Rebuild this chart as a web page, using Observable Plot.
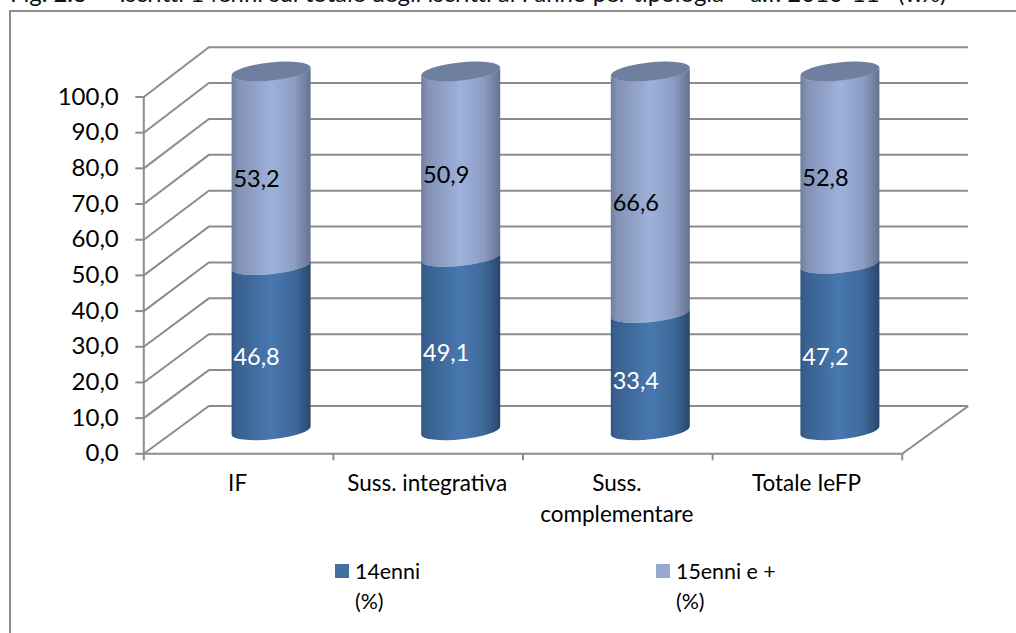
<!DOCTYPE html>
<html>
<head>
<meta charset="utf-8">
<script src="https://cdn.jsdelivr.net/npm/d3@7"></script>
<script src="https://cdn.jsdelivr.net/npm/@observablehq/plot@0.6"></script>
<style>
  html,body{margin:0;padding:0;background:#fff;overflow:hidden}
  #page{position:relative;width:1016px;height:633px;overflow:hidden;font-family:Lato,sans-serif;color:#000}
  #title{position:absolute;left:10px;top:-18px;font-size:23.95px;line-height:22px;white-space:pre;color:#111}
  #frame{position:absolute;left:9px;top:10px;width:1010px;height:640px;border:2px solid #8e8e8e;box-sizing:border-box}
  #chart{position:absolute;left:0;top:0}
  .lg{position:absolute;font-size:21.4px;line-height:30px;white-space:pre}
  .sw{position:absolute;width:14px;height:14px}
</style>
</head>
<body>
<div id="page">
  <div id="title">Fig. 2.3  – Iscritti 14enni sul totale degli iscritti al I anno per tipologia – a.f. 2010-11   (v.%)</div>
  <div id="frame"></div>
  <div id="chart"></div>
  <div class="sw" style="left:335px;top:564px;background:#44709f"></div>
  <div class="lg" style="left:355px;top:556px">14enni
(%)</div>
  <div class="sw" style="left:656px;top:564px;background:#95a9d1"></div>
  <div class="lg" style="left:676px;top:556px">15enni e +
(%)</div>
</div>
<script>
const categories = ["IF", "Suss. integrativa", "Suss.\ncomplementare", "Totale IeFP"];
const values14 = [46.8, 49.1, 33.4, 47.2];
const values15 = [53.2, 50.9, 66.6, 52.8];
const yTicks = d3.range(0, 101, 10);
const decimal = d => d.toFixed(1).replace(".", ",");

// Oblique "3D" depth, in data units of the two scales
const depthX = 0.343, backRight = 4.349;
const backY = d => 13.4 + d * 1.0056;
const grey = "#8c8c8c";
const cylHalf = 0.2095;

const rows14 = categories.map((c, i) => ({i, pos: i + 0.5, low: 0, high: values14[i], mid: values14[i] / 2, label: decimal(values14[i])}));
const rows15 = categories.map((c, i) => ({i, pos: i + 0.5, low: values14[i], high: 100, mid: values14[i] + values15[i] / 2, label: decimal(values15[i])}));

// Cylinder geometry in pixels, derived from the scaled rect channels
const shiftX = 33, rot = -6, ry = 8.8;
const lift = v => v === 0 ? 22.8 : v === 100 ? 25 : 21;
const ends = rx => [rx * Math.cos(rot * Math.PI / 180), rx * Math.sin(rot * Math.PI / 180)];

function cylinder(data, fill) {
  return (index, scales, values) => {
    const g = d3.create("svg:g");
    for (const i of index) {
      const rx = (values.x2[i] - values.x1[i]) / 2;
      const cx = (values.x1[i] + values.x2[i]) / 2 + shiftX;
      const yb = values.y1[i] - lift(data[i].low);
      const yt = values.y2[i] - lift(data[i].high);
      const [ex, ey] = ends(rx);
      g.append("path")
        .attr("fill", fill)
        .attr("d", `M${cx - ex},${yb - ey}A${rx},${ry} ${rot} 0 0 ${cx + ex},${yb + ey}L${cx + ex},${yt + ey}A${rx},${ry} ${rot} 0 1 ${cx - ex},${yt - ey}Z`);
    }
    return g.node();
  };
}
function cap(data, fill) {
  return (index, scales, values) => {
    const g = d3.create("svg:g");
    for (const i of index) {
      const rx = (values.x2[i] - values.x1[i]) / 2;
      const cx = (values.x1[i] + values.x2[i]) / 2 + shiftX;
      const yt = values.y2[i] - lift(100);
      const [ex, ey] = ends(rx);
      g.append("path")
        .attr("fill", fill)
        .attr("d", `M${cx - ex},${yt - ey}A${rx},${ry + 0.3} ${rot} 0 0 ${cx + ex},${yt + ey}A${rx},${ry + 0.3} ${rot} 0 0 ${cx - ex},${yt - ey}Z`);
    }
    return g.node();
  };
}
const gradient = (id, stops) =>
  `<linearGradient id="${id}" x1="0" x2="1" y1="0" y2="0">` +
  stops.map(([o, c]) => `<stop offset="${o}" stop-color="${c}"/>`).join("") + `</linearGradient>`;
const defs = () => {
  const s = d3.create("svg:defs");
  s.html(
    gradient("g14", [[0, "#33557f"], [0.06, "#38608f"], [0.5, "#4878b0"], [0.8, "#3e6898"], [0.95, "#2e4f7a"], [1, "#2a4668"]]) +
    gradient("g15", [[0, "#6f7f9f"], [0.08, "#8391b5"], [0.5, "#9db2da"], [0.8, "#8b9cc2"], [0.95, "#6f7d9c"], [1, "#64718d"]])
  );
  return s.node();
};

const rectOpts = (data, render) => ({
  x1: d => d.pos - cylHalf, x2: d => d.pos + cylHalf,
  y1: "low", y2: "high", render
});

const chart = Plot.plot({
  width: 1016, height: 633,
  marginLeft: 143.3, marginRight: 114.3, marginTop: 96.5, marginBottom: 179.7,
  style: {background: "transparent", fontFamily: "Lato, sans-serif", overflow: "visible"},
  x: {domain: [0, 4], axis: null},
  y: {domain: [0, 100], axis: null},
  marks: [
    defs,
    // back wall gridlines, side wall diagonals, floor edge
    Plot.ruleY(yTicks, {y: backY, x1: depthX, x2: backRight, stroke: grey, strokeWidth: 2}),
    Plot.link(yTicks, {x1: 0, x2: depthX, y1: d => d, y2: backY, stroke: grey, strokeWidth: 2}),
    Plot.link([0], {x1: 4, x2: backRight, y1: 0, y2: backY, stroke: grey, strokeWidth: 2}),
    // front axes
    Plot.ruleX([0], {y1: 0, y2: 100, stroke: grey, strokeWidth: 2}),
    Plot.ruleY([0], {x1: 0, x2: 4, stroke: grey, strokeWidth: 2}),
    Plot.axisY({ticks: yTicks, tickFormat: decimal, tickSize: 8, tickPadding: 17, fontSize: 24, stroke: grey, strokeWidth: 2, fill: "#000", label: null}),
    Plot.axisX({ticks: [0, 1, 2, 3, 4], tickFormat: () => "", tickSize: 7, stroke: grey, strokeWidth: 2, label: null}),
    Plot.axisX({ticks: [0.5, 1.5, 2.5, 3.5], tickFormat: d => categories[d - 0.5], tickSize: 0, tickPadding: 15, fontSize: 22.5, lineHeight: 1.38, dx: -1, fill: "#000", label: null}),
    // cylinders
    Plot.rect(rows15, rectOpts(rows15, cylinder(rows15, "url(#g15)"))),
    Plot.rect(rows14, rectOpts(rows14, cylinder(rows14, "url(#g14)"))),
    Plot.rect(rows15, rectOpts(rows15, cap(rows15, "#6e7f9f"))),
    // value labels
    Plot.text(rows14, {x: "pos", y: "mid", text: "label", dx: 18, dy: -12.5, fill: "#fff", fontSize: 23.5}),
    Plot.text(rows15, {x: "pos", y: "mid", text: "label", dx: 18, dy: -12.5, fill: "#000", fontSize: 23.5})
  ]
});
document.getElementById("chart").appendChild(chart);
</script>
</body>
</html>
